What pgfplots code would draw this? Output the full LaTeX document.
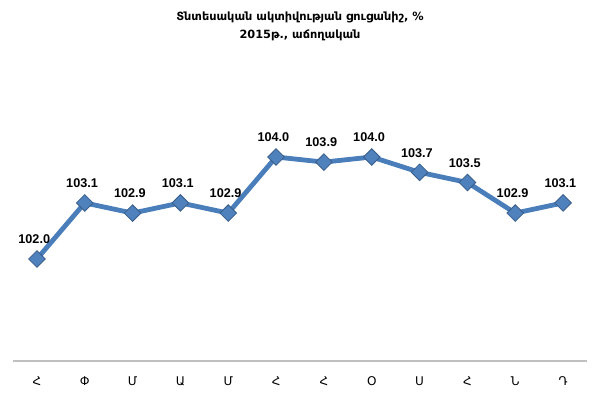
\documentclass[border=0pt]{standalone}
\usepackage{fontspec}
\setmainfont{Liberation Sans}
\newfontfamily\armfont{DejaVu Sans}
\usepackage{pgfplots}
\pgfplotsset{compat=1.18}
\definecolor{lineblue}{HTML}{4A7EBB}
\definecolor{markblue}{HTML}{4F81BD}
\definecolor{markedge}{HTML}{385D8A}
\definecolor{axgray}{HTML}{BFBFBF}
\begin{document}
\begin{tikzpicture}
\useasboundingbox (0,0) rectangle (450pt,295.5pt);
\begin{axis}[
  at={(9.75pt,24.75pt)}, anchor=south west,
  scale only axis, width=430.5pt, height=191.25pt,
  xmin=-0.5, xmax=11.5, ymin=100, ymax=105,
  axis x line=bottom, axis y line=none,
  x axis line style={draw=axgray, line width=1.5pt, -},
  xtick=data, xticklabels={Հ,Փ,Մ,Ա,Մ,Հ,Հ,Օ,Ս,Հ,Ն,Դ},
  xticklabel style={font=\armfont\fontsize{9}{10}\selectfont, yshift=-8pt},
  major tick length=0pt,
  clip=false,
  nodes near coords,
  point meta=explicit symbolic,
  every node near coord/.append style={font=\bfseries\fontsize{9.5}{11}\selectfont, anchor=south, inner sep=0pt, yshift=11pt, xshift=-2pt, text=black},
]
\addplot[color=lineblue, line width=3.6pt, mark=square*, mark size=4.4pt,
  mark options={rotate=45, fill=markblue, draw=markedge, line width=0.6pt}]
  table[meta=lab] {
x y lab
0 102.0 102.0
1 103.1 103.1
2 102.9 102.9
3 103.1 103.1
4 102.9 102.9
5 104.0 104.0
6 103.9 103.9
7 104.0 104.0
8 103.7 103.7
9 103.5 103.5
10 102.9 102.9
11 103.1 103.1
};
\end{axis}
\node[font=\armfont\bfseries\fontsize{8.5}{10}\selectfont] at (225pt,282.75pt) {Տնտեսական ակտիվության ցուցանիշ, \%};
\node[font=\armfont\bfseries\fontsize{8.5}{10}\selectfont] at (225pt,269.25pt) {2015թ., աճողական};
\end{tikzpicture}
\end{document}
